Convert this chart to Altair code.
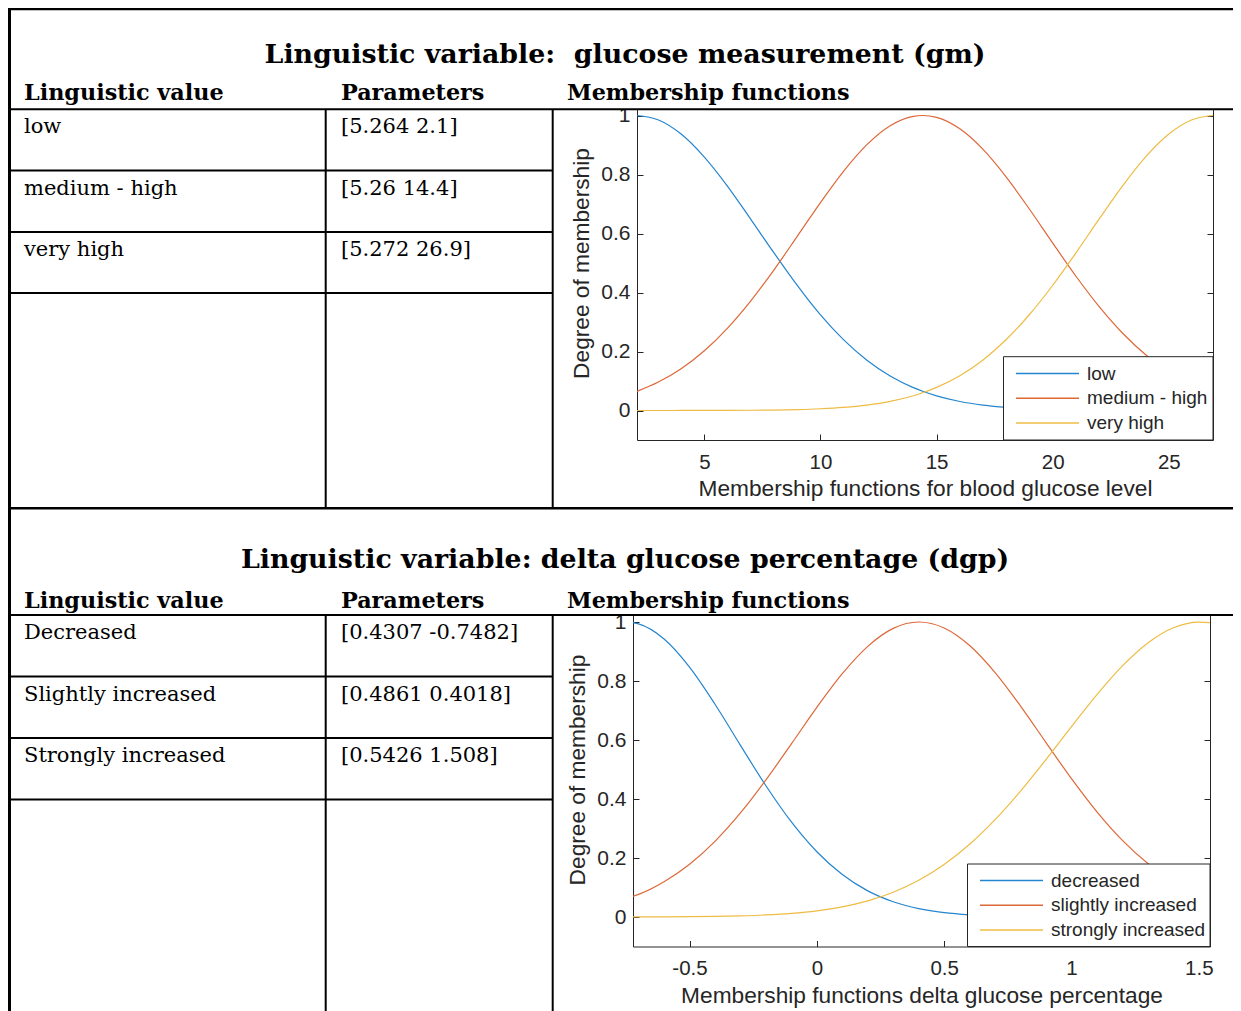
import altair as alt
import pandas as pd

# ---------------- data ----------------
gm_title = "Linguistic variable:\u00a0 glucose measurement (gm)"
dgp_title = "Linguistic variable: delta glucose percentage (dgp)"
headers = ["Linguistic value", "Parameters", "Membership functions"]

gm_values = ["low", "medium - high", "very high"]
gm_params = ["[5.264 2.1]", "[5.26 14.4]", "[5.272 26.9]"]
dgp_values = ["Decreased", "Slightly increased", "Strongly increased"]
dgp_params = ["[0.4307 -0.7482]", "[0.4861 0.4018]", "[0.5426 1.508]"]

gm_names = ["low", "medium - high", "very high"]
dgp_names = ["decreased", "slightly increased", "strongly increased"]
series_colors = ["#2585CE", "#DD6838", "#EEBC44"]

gm_xlabel = "Membership functions for blood glucose level"
dgp_xlabel = "Membership functions delta glucose percentage"
ylabel = "Degree of membership"

gm_x = [2.1, 3, 4, 5, 6, 7, 8, 9, 10, 11, 12, 13, 14, 14.4, 15, 16, 17, 18, 19,
        20, 21, 22, 23, 24, 25, 26, 26.9]
gm_low = [1.0, 0.9855, 0.937, 0.859, 0.760, 0.648, 0.534, 0.424, 0.324, 0.2395,
          0.1706, 0.1172, 0.0777, 0.0652, 0.0496, 0.0306, 0.0182, 0.0104, 0.0058,
          0.0031, 0.0016, 0.0008, 0.0004, 0.0002, 0.0001, 0.0, 0.0]
gm_medium = [0.0650, 0.0955, 0.1416, 0.2025, 0.2794, 0.3717, 0.4770, 0.5904,
             0.7048, 0.8115, 0.9011, 0.9652, 0.9971, 1.0, 0.9935, 0.9548, 0.8850,
             0.7912, 0.6822, 0.5674, 0.4551, 0.3521, 0.2628, 0.1891, 0.1313,
             0.0879, 0.0594]
gm_veryhigh = [0.0, 0.0, 0.0001, 0.0002, 0.0004, 0.0008, 0.0016, 0.0031, 0.0059,
               0.0106, 0.0184, 0.0309, 0.0501, 0.0601, 0.0783, 0.1180, 0.1715,
               0.2405, 0.3254, 0.4246, 0.5346, 0.6493, 0.7606, 0.8596, 0.9371,
               0.9855, 1.0]

dgp_x = [-0.722, -0.7, -0.6, -0.5, -0.4, -0.3, -0.2, -0.1, 0, 0.1, 0.2, 0.3, 0.4,
         0.5, 0.6, 0.7, 0.8, 0.9, 1.0, 1.1, 1.2, 1.3, 1.4, 1.5, 1.544]
dgp_dec = [0.9979, 0.9938, 0.9425, 0.8470, 0.7212, 0.5819, 0.4449, 0.3222, 0.2212,
           0.1438, 0.0886, 0.0517, 0.0286, 0.0150, 0.0075, 0.0035, 0.0016, 0.0007,
           0.0003, 0.0001, 0.0, 0.0, 0.0, 0.0, 0.0]
dgp_slight = [0.0697, 0.0766, 0.1196, 0.1789, 0.2566, 0.3527, 0.4647, 0.5869,
              0.7106, 0.8247, 0.9174, 0.9783, 1.0, 0.9798, 0.9202, 0.8285, 0.7150,
              0.5914, 0.4690, 0.3565, 0.2597, 0.1814, 0.1214, 0.0779, 0.0633]
dgp_strong = [0.0002, 0.0003, 0.0005, 0.0011, 0.0021, 0.0039, 0.0071, 0.0124,
              0.0210, 0.0345, 0.0547, 0.0839, 0.1243, 0.1780, 0.2466, 0.3300,
              0.4269, 0.5338, 0.6452, 0.7537, 0.8512, 0.9291, 0.9804, 0.9999,
              0.9978]

gm_xticks = [5, 10, 15, 20, 25]
dgp_xticks = [-0.5, 0, 0.5, 1, 1.5]
yticks = [0, 0.2, 0.4, 0.6, 0.8, 1]
y_domain = [-0.1, 1.1]
gm_xdomain = [2.1, 26.9]
dgp_xdomain = [-0.722, 1.544]

# ---------------- styling ----------------
W, H = 1225, 1003
AX = "#262626"
SANS = "Liberation Sans"
SERIF = "DejaVu Serif"
LBL = "replace(format(datum.value, '~g'), '\u2212', '-')"


def long_df(xs, names, series):
    rows = []
    for n, vals in zip(names, series):
        for x, v in zip(xs, vals):
            rows.append({"x": x, "v": v, "s": n})
    return pd.DataFrame(rows)


def plot_layers(df, names, xdom, xr, yr, xticks, xtitle):
    xs = alt.Scale(domain=xdom, range=xr, nice=False, zero=False)
    ys = alt.Scale(domain=y_domain, range=yr, nice=False, zero=False)
    cs = alt.Scale(domain=names, range=series_colors)
    lines = alt.Chart(df).mark_line(strokeWidth=1.2, interpolate="monotone").encode(
        x=alt.X("x:Q", scale=xs, axis=alt.Axis(
            orient="bottom", offset=yr[0] - H, values=xticks, labelExpr=LBL,
            ticks=False, tickSize=0, domainColor=AX, domainWidth=1,
            labelFont=SANS, labelFontSize=20.5, labelColor=AX, labelPadding=12,
            labelOverlap=False, labelFlush=False,
            title=xtitle, titleFont=SANS, titleFontSize=22.7,
            titleFontWeight="normal", titleColor=AX, titlePadding=5, grid=False)),
        y=alt.Y("v:Q", scale=ys, axis=alt.Axis(
            orient="left", offset=-xr[0], values=yticks, labelExpr=LBL,
            ticks=False, tickSize=0, domainColor=AX, domainWidth=1,
            labelFont=SANS, labelFontSize=21, labelColor=AX, labelPadding=7,
            labelOverlap=False, labelFlush=False,
            title=ylabel, titleFont=SANS, titleFontSize=22.7,
            titleFontWeight="normal", titleColor=AX, titlePadding=7, grid=False)),
        color=alt.Color("s:N", scale=cs, legend=None),
    )
    ticks = alt.Chart(df).mark_line(opacity=0).encode(
        x=alt.X("x:Q", scale=xs, axis=alt.Axis(
            orient="top", offset=-yr[0], values=xticks, labels=False, domain=False,
            tickSize=6, tickColor=AX, tickWidth=1, title=None, grid=False)),
        y=alt.Y("v:Q", scale=ys, axis=alt.Axis(
            orient="right", offset=xr[0] - W, values=yticks, labels=False,
            domain=False, tickSize=6, tickColor=AX, tickWidth=1, title=None,
            grid=False)),
        detail="s:N",
    )
    frame = alt.Chart(df).mark_line(opacity=0).encode(
        x=alt.X("x:Q", scale=xs, axis=None),
        y=alt.Y("v:Q", scale=ys, axis=alt.Axis(
            orient="left", offset=-xr[1], values=yticks, labels=False,
            domain=True, domainColor=AX, domainWidth=1, tickSize=6, tickColor=AX,
            tickWidth=1, title=None, grid=False)),
        detail="s:N",
    )
    return [lines, ticks, frame]


def legend_layers(names, box, line_x, text_x, rows):
    ldf = pd.DataFrame({"s": names})
    ysc = alt.Scale(type="point", domain=names, range=rows, padding=0)
    cs = alt.Scale(domain=names, range=series_colors)
    boxl = alt.Chart(ldf.head(1)).mark_rect(
        fill="white", stroke=AX, strokeWidth=1).encode(
        x=alt.value(box[0]), x2=alt.value(box[1]),
        y=alt.value(box[2]), y2=alt.value(box[3]))
    segs = alt.Chart(ldf).mark_rule(strokeWidth=1.3).encode(
        x=alt.value(line_x[0]), x2=alt.value(line_x[1]),
        y=alt.Y("s:N", scale=ysc, axis=None),
        color=alt.Color("s:N", scale=cs, legend=None))
    labs = alt.Chart(ldf).mark_text(
        align="left", baseline="middle", font=SANS, fontSize=19, color=AX).encode(
        x=alt.value(text_x), y=alt.Y("s:N", scale=ysc, axis=None), text="s:N")
    return [boxl, segs, labs]


def cover(x1, x2, y1, y2):
    return alt.Chart(pd.DataFrame({"a": [0]})).mark_rect(fill="white").encode(
        x=alt.value(x1), x2=alt.value(x2), y=alt.value(y1), y2=alt.value(y2))


def hline(y, x1, x2, w=2):
    return alt.Chart(pd.DataFrame({"a": [0]})).mark_rule(
        color="black", strokeWidth=w).encode(
        x=alt.value(x1), x2=alt.value(x2), y=alt.value(y))


def vline(x, y1, y2, w=2):
    return alt.Chart(pd.DataFrame({"a": [0]})).mark_rule(
        color="black", strokeWidth=w).encode(
        x=alt.value(x), y=alt.value(y1), y2=alt.value(y2))


def text_one(t, x, y, size, bold, align="left"):
    return alt.Chart(pd.DataFrame({"t": [t]})).mark_text(
        align=align, baseline="alphabetic", font=SERIF, fontSize=size,
        fontWeight="bold" if bold else "normal", color="black").encode(
        x=alt.value(x), y=alt.value(y), text="t:N")


def cells(values, params, rows, size):
    d = pd.DataFrame({"value": values, "param": params})
    ysc = alt.Scale(type="point", domain=values, range=rows, padding=0)
    a = alt.Chart(d).mark_text(align="left", baseline="alphabetic", font=SERIF,
                               fontSize=size, color="black").encode(
        x=alt.value(16), y=alt.Y("value:N", scale=ysc, axis=None), text="value:N")
    b = alt.Chart(d).mark_text(align="left", baseline="alphabetic", font=SERIF,
                               fontSize=size, color="black").encode(
        x=alt.value(333), y=alt.Y("value:N", scale=ysc, axis=None), text="param:N")
    return [a, b]


gm_df = long_df(gm_x, gm_names, [gm_low, gm_medium, gm_veryhigh])
dgp_df = long_df(dgp_x, dgp_names, [dgp_dec, dgp_slight, dgp_strong])

layers = []
# plots
layers += plot_layers(gm_df, gm_names, gm_xdomain, [629, 1205], [432, 78],
                      gm_xticks, gm_xlabel)
layers += plot_layers(dgp_df, dgp_names, dgp_xdomain, [625, 1202], [938.5, 584.5],
                      dgp_xticks, dgp_xlabel)
layers += legend_layers(gm_names, [995.5, 1205, 348.7, 432], [1008, 1071], 1079,
                        [365.5, 415])
layers += legend_layers(dgp_names, [959.5, 1202, 856, 938.5], [972, 1035], 1043,
                        [872.5, 922])
# header covers
layers += [cover(545, W, 70, 101), cover(545, W, 575, 607)]
# table lines
layers += [
    hline(1, 0, W, 2.5),
    vline(1.5, 0, H, 3),
    hline(101.3, 0, W, 2),
    vline(317.7, 101.3, 500.3), vline(544.7, 101.3, 500.3),
    hline(162.5, 0, 544.7), hline(224, 0, 544.7), hline(285, 0, 544.7),
    hline(500.3, 0, W, 2.5),
    hline(607, 0, W, 2),
    vline(317.7, 607, H), vline(544.7, 607, H),
    hline(668.5, 0, 544.7), hline(730, 0, 544.7), hline(791.5, 0, 544.7),
]
# texts
layers += [
    text_one(gm_title, 617, 55, 26.8, True, "center"),
    text_one(headers[0], 16, 92, 22.3, True),
    text_one(headers[1], 333, 92, 22.3, True),
    text_one(headers[2], 559, 92, 22.3, True),
    text_one(dgp_title, 617, 560, 26.8, True, "center"),
    text_one(headers[0], 16, 600.3, 22.3, True),
    text_one(headers[1], 333, 600.3, 22.3, True),
    text_one(headers[2], 559, 600.3, 22.3, True),
]
layers += cells(gm_values, gm_params, [125.3, 248.3], 21)
layers += cells(dgp_values, dgp_params, [631.3, 754.3], 21)

chart = alt.layer(*layers).resolve_scale(
    x="independent", y="independent", color="independent"
).resolve_axis(x="independent", y="independent").properties(
    width=W, height=H, padding=0,
    autosize=alt.AutoSizeParams(type="none"),
).configure_view(stroke=None)

chart.save("out.html", embed_options={"renderer": "svg", "actions": False})
